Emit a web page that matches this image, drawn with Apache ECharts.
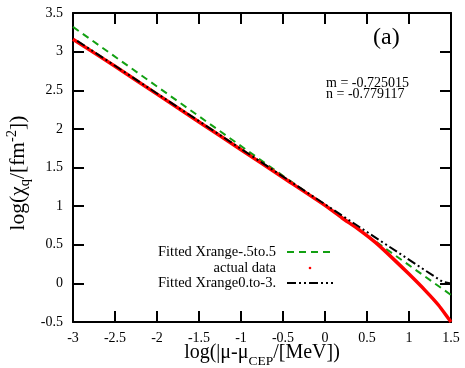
<!DOCTYPE html>
<html>
<head>
<meta charset="utf-8">
<script src="https://cdn.jsdelivr.net/npm/echarts@6/dist/echarts.min.js"></script>
<style>html,body{margin:0;padding:0;background:#fff;}#c{width:465px;height:368px;}</style>
</head>
<body>
<div id="c"></div>
<script>
// ---- data ----
const xTicks = [-3, -2.5, -2, -1.5, -1, -0.5, 0, 0.5, 1, 1.5];
const yTicks = [-0.5, 0, 0.5, 1, 1.5, 2, 2.5, 3, 3.5];
const greenX = [-3, 1.5];
const greenY = [3.32, -0.15];
const redX = [-3, -2.5, -2, -1.5, -1, -0.5, 0, 0.2, 0.4, 0.6, 0.8, 1.0, 1.2, 1.35, 1.5];
const redY = [3.16, 2.81, 2.45, 2.09, 1.73, 1.37, 1.01, 0.85, 0.70, 0.53, 0.33, 0.12, -0.10, -0.28, -0.5];
const blackX = [-2.95, 1.4, 1.5];
const blackY = [3.14, 0.02, 0.0];
const legendNames = ['Fitted Xrange-.5to.5', 'actual data', 'Fitted Xrange0.to-3.'];
const fitText = ['m = -0.725015', 'n = -0.779117'];
const panelLabel = '(a)';

const FONT = 'Liberation Serif';
const pair = (xs, ys) => xs.map((x, i) => [x, ys[i]]);

const chart = echarts.init(document.getElementById('c'), null, {renderer: 'canvas'});
const axisCommon = {
  type: 'value',
  interval: 0.5,
  axisLine: {show: true, onZero: false, lineStyle: {color: '#000', width: 2}},
  axisTick: {show: true, inside: true, length: 11, lineStyle: {color: '#000', width: 2}},
  splitLine: {show: false},
};
const option = {
  animation: false,
  backgroundColor: '#fff',
  grid: {left: 73, top: 13, right: 14, bottom: 46, containLabel: false, outerBoundsMode: 'none'},
  xAxis: [
    Object.assign({}, axisCommon, {
      min: xTicks[0], max: xTicks[xTicks.length - 1], position: 'bottom',
      axisLabel: {color: '#000', fontFamily: FONT, fontSize: 14, margin: 9},
      name: '{n|log(|μ-μ}{s|CEP}{n|/[MeV])}',
      nameLocation: 'middle', nameGap: 19, nameMoveOverlap: false,
      nameTextStyle: {
        color: '#000',
        rich: {
          n: {fontFamily: FONT, fontSize: 20, color: '#000', lineHeight: 24, verticalAlign: 'middle'},
          s: {fontFamily: FONT, fontSize: 13.5, color: '#000', lineHeight: 24, verticalAlign: 'bottom', padding: [0,0,-3,0]}
        }
      }
    }),
    Object.assign({}, axisCommon, {
      min: xTicks[0], max: xTicks[xTicks.length - 1], position: 'top',
      axisLabel: {show: false}
    })
  ],
  yAxis: [
    Object.assign({}, axisCommon, {
      min: yTicks[0], max: yTicks[yTicks.length - 1], position: 'left',
      axisLabel: {color: '#000', fontFamily: FONT, fontSize: 14, margin: 10},
      name: '{n|log(χ}{s|q}{n|/[fm}{p|-2}{n|])}',
      nameLocation: 'middle', nameGap: 42, nameRotate: 90, nameMoveOverlap: false,
      nameTextStyle: {
        color: '#000',
        padding: [0, 11, 0, 0],
        rich: {
          n: {fontFamily: FONT, fontSize: 21.5, color: '#000', lineHeight: 26, verticalAlign: 'middle'},
          s: {fontFamily: FONT, fontSize: 14.5, color: '#000', lineHeight: 26, verticalAlign: 'bottom', padding: [0,0,-2,0]},
          p: {fontFamily: FONT, fontSize: 14.5, color: '#000', lineHeight: 26, verticalAlign: 'top'}
        }
      }
    }),
    Object.assign({}, axisCommon, {
      min: yTicks[0], max: yTicks[yTicks.length - 1], position: 'right',
      axisLabel: {show: false}
    })
  ],
  series: [
    {
      name: legendNames[0], type: 'line', data: pair(greenX, greenY),
      showSymbol: false, symbol: 'none', z: 2,
      lineStyle: {color: '#12a012', width: 2, type: [7, 5]}
    },
    {
      name: legendNames[1], type: 'line', data: pair(redX, redY), smooth: 0.2,
      showSymbol: false, symbol: 'none', z: 3,
      lineStyle: {color: '#ff0000', width: 3.5}
    },
    {
      name: legendNames[2], type: 'line', data: pair(blackX, blackY),
      showSymbol: false, symbol: 'none', z: 4,
      lineStyle: {color: '#000', width: 2, type: [9, 3, 2, 3, 2, 3]}
    }
  ],
  graphic: [
    {type: 'text', left: 373, top: 26, style: {text: panelLabel, font: '24px "Liberation Serif"', fill: '#000'}},
    {type: 'text', left: 326, top: 76, style: {text: fitText[0], font: '14px "Liberation Serif"', fill: '#000'}},
    {type: 'text', left: 326, top: 87, style: {text: fitText[1], font: '14px "Liberation Serif"', fill: '#000'}},
    {type: 'text', x: 276, y: 252, style: {text: legendNames[0], font: '14.5px "Liberation Serif"', fill: '#000', align: 'right', verticalAlign: 'middle'}},
    {type: 'text', x: 276, y: 268, style: {text: legendNames[1], font: '14.5px "Liberation Serif"', fill: '#000', align: 'right', verticalAlign: 'middle'}},
    {type: 'text', x: 276, y: 283, style: {text: legendNames[2], font: '14.5px "Liberation Serif"', fill: '#000', align: 'right', verticalAlign: 'middle'}},
    {type: 'line', shape: {x1: 287, y1: 252, x2: 333, y2: 252}, style: {stroke: '#12a012', lineWidth: 2, lineDash: [7, 5]}},
    {type: 'circle', shape: {cx: 310, cy: 268, r: 1.3}, style: {fill: '#ff0000'}},
    {type: 'line', shape: {x1: 287, y1: 283, x2: 333, y2: 283}, style: {stroke: '#000', lineWidth: 2, lineDash: [9, 3, 2, 3, 2, 3]}}
  ]
};
chart.setOption(option);
</script>
</body>
</html>
